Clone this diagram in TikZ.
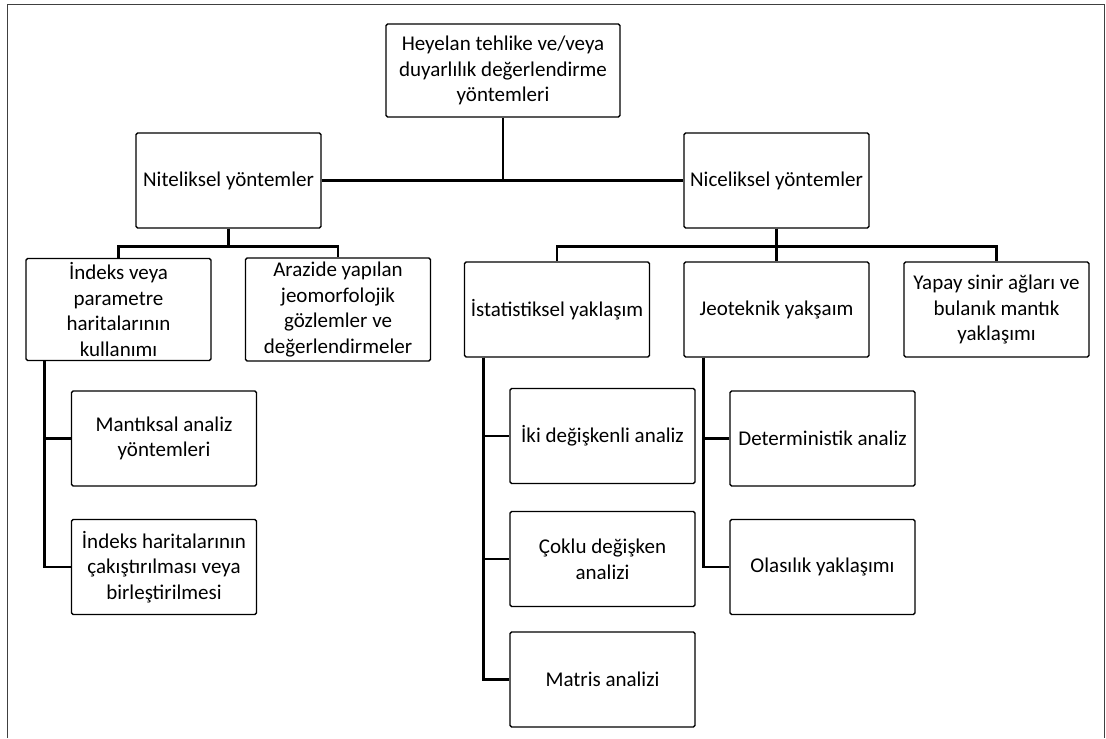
\documentclass[tikz,border=0pt]{standalone}
\usepackage{fontspec}
\setmainfont{Carlito}
\usetikzlibrary{positioning, calc}

\begin{document}
\begin{tikzpicture}[
    x=0.5pt, y=-0.5pt,
    font=\fontsize{10.5}{12.8}\selectfont,
    box/.style={rectangle, rounded corners=0.8pt, minimum width=92.5pt, minimum height=47.5pt, inner sep=2pt, align=center, draw=black, line width=0.7pt},
    topbox/.style={box, minimum width=117pt, minimum height=46.5pt},
    link/.style={line width=1.4pt},
    frame/.style={draw=black!75, line width=0.5pt}
]
\useasboundingbox (0,0) rectangle (1106,738);
\draw [frame] (7,738) -- (7,5) -- (1104,5) -- (1104,738);

\node (top) [topbox] at (503,70.5) {Heyelan tehlike ve/veya\\duyarlılık değerlendirme\\yöntemleri};
\node (nitel) [box] at (228.5,180.5) {Niteliksel yöntemler};
\node (nicel) [box] at (776.5,180.5) {Niceliksel yöntemler};

\node (indeks) [box] at (118.5,309.5) {İndeks veya\\parametre\\haritalarının\\kullanımı};
\node (arazi) [box] at (338,309.5) {Arazide yapılan\\jeomorfolojik\\gözlemler ve\\değerlendirmeler};
\node (istat) [box] at (557,309.5) {İstatistiksel yaklaşım};
\node (jeo) [box] at (776.5,309.5) {Jeoteknik yakşaım};
\node (yapay) [box] at (996.5,309.5) {Yapay sinir ağları ve\\bulanık mantık\\yaklaşımı};

\node (mantik) [box] at (164,438.5) {Mantıksal analiz\\yöntemleri};
\node (indhar) [box] at (164,567) {İndeks haritalarının\\çakıştırılması veya\\birleştirilmesi};

\node (iki) [box] at (602.5,436) {İki değişkenli analiz};
\node (coklu) [box] at (602.5,559) {Çoklu değişken\\analizi};
\node (matris) [box] at (602.5,679.5) {Matris analizi};

\node (determ) [box] at (822.5,438.5) {Deterministik analiz};
\node (olas) [box] at (822.5,567) {Olasılık yaklaşımı};

\draw [link] (top) -- (top |- nitel.east);
\draw [link] (nitel) -- (nicel);
\draw [link] (nitel.south) -- ++(0,18) -| (indeks.north);
\draw [link] (nitel.south) -- ++(0,18) -| (arazi.north);
\draw [link] (nicel.south) -- ++(0,18) -| (istat.north);
\draw [link] (nicel) -- (jeo);
\draw [link] (nicel.south) -- ++(0,18) -| (yapay.north);

\draw [link] ([xshift=9.5pt]indeks.south west) |- (mantik);
\draw [link] ([xshift=9.5pt]indeks.south west) |- (indhar);
\draw [link] ([xshift=10pt]istat.south west) |- (iki);
\draw [link] ([xshift=10pt]istat.south west) |- (coklu);
\draw [link] ([xshift=10pt]istat.south west) |- (matris);
\draw [link] ([xshift=10pt]jeo.south west) |- (determ);
\draw [link] ([xshift=10pt]jeo.south west) |- (olas);

\end{tikzpicture}
\end{document}
